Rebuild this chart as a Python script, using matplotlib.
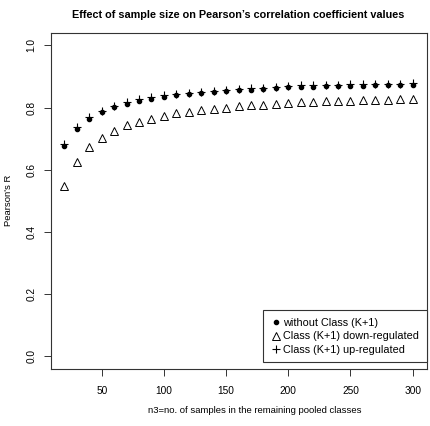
import matplotlib
matplotlib.use("Agg")
import matplotlib.pyplot as plt
from matplotlib.lines import Line2D

n3 = list(range(20, 301, 10))
without_k1 = [0.677, 0.732, 0.764, 0.785, 0.801, 0.812, 0.821, 0.828, 0.835, 0.839,
              0.843, 0.846, 0.849, 0.853, 0.855, 0.857, 0.859, 0.862, 0.865, 0.866,
              0.867, 0.868, 0.869, 0.870, 0.870, 0.871, 0.872, 0.872, 0.873]
down_reg = [0.547, 0.624, 0.672, 0.702, 0.723, 0.743, 0.753, 0.764, 0.774, 0.782,
            0.787, 0.791, 0.796, 0.800, 0.804, 0.807, 0.809, 0.812, 0.815, 0.817,
            0.818, 0.820, 0.821, 0.822, 0.823, 0.824, 0.825, 0.826, 0.827]
up_reg = [0.682, 0.738, 0.769, 0.790, 0.806, 0.817, 0.826, 0.833, 0.840, 0.844,
          0.848, 0.851, 0.854, 0.858, 0.860, 0.862, 0.864, 0.867, 0.870, 0.871,
          0.872, 0.873, 0.874, 0.875, 0.875, 0.876, 0.877, 0.877, 0.878]

xticks = [50, 100, 150, 200, 250, 300]
yticks = [0.0, 0.2, 0.4, 0.6, 0.8, 1.0]
legend_labels = ["without Class (K+1)", "Class (K+1) down-regulated", "Class (K+1) up-regulated"]

plt.rcParams['font.family'] = ['Liberation Sans', 'DejaVu Sans']
fig = plt.figure(figsize=(4.30, 4.26), dpi=100)
ax = fig.add_axes([50.5/430, 1-368.5/426, 376/430, 335.5/426])

dot_kw = dict(linestyle='none', marker='o', markersize=3.0, color='black')
tri_kw = dict(linestyle='none', marker='^', markersize=5.2, markerfacecolor='white',
              markeredgecolor='black', markeredgewidth=0.7)
plus_kw = dict(linestyle='none', marker='+', markersize=6, color='black', markeredgewidth=0.8)

ax.plot(n3, without_k1, **dot_kw)
ax.plot(n3, down_reg, **tri_kw)
ax.plot(n3, up_reg, **plus_kw)

ax.set_xlim(8.8, 311.2)
ax.set_ylim(-0.04, 1.04)
ax.set_xticks(xticks)
ax.set_yticks(yticks)
ax.set_yticklabels([f"{v:.1f}" for v in yticks], rotation=90, va='center')
ax.tick_params(axis='both', direction='out', length=5, width=0.7, color='#333333',
               labelsize=7.3)
ax.tick_params(axis='x', pad=7.5)
ax.tick_params(axis='y', pad=5.0)
for s in ax.spines.values():
    s.set_linewidth(0.8)
    s.set_color('#333333')

ax.set_xlabel("n3=no. of samples in the remaining pooled classes", fontsize=6.8, va='center')
ax.xaxis.set_label_coords((254.3-50.5)/376, (368.5-410.3)/335.5)
ax.set_ylabel("Pearson's R", fontsize=6.8, va='center')
ax.yaxis.set_label_coords((8.5-50.5)/376, 0.5)
fig.text(238.5/430, 1-15.5/426, "Effect of sample size on Pearson\u2019s correlation coefficient values",
         ha='center', va='center', fontsize=7.85, fontweight='bold')

handles = [Line2D([], [], **dot_kw), Line2D([], [], **tri_kw), Line2D([], [], **plus_kw)]
leg = ax.legend(handles, legend_labels, loc='lower right',
                bbox_to_anchor=(1.0, (368.5-362.3)/335.5), fontsize=7.85, frameon=True,
                fancybox=False, edgecolor='#333333', framealpha=1, borderpad=0.7,
                handlelength=0.88, handletextpad=0.23, labelspacing=0.3, borderaxespad=0)
leg.get_frame().set_linewidth(0.8)

fig.savefig("out.png", dpi=100)
